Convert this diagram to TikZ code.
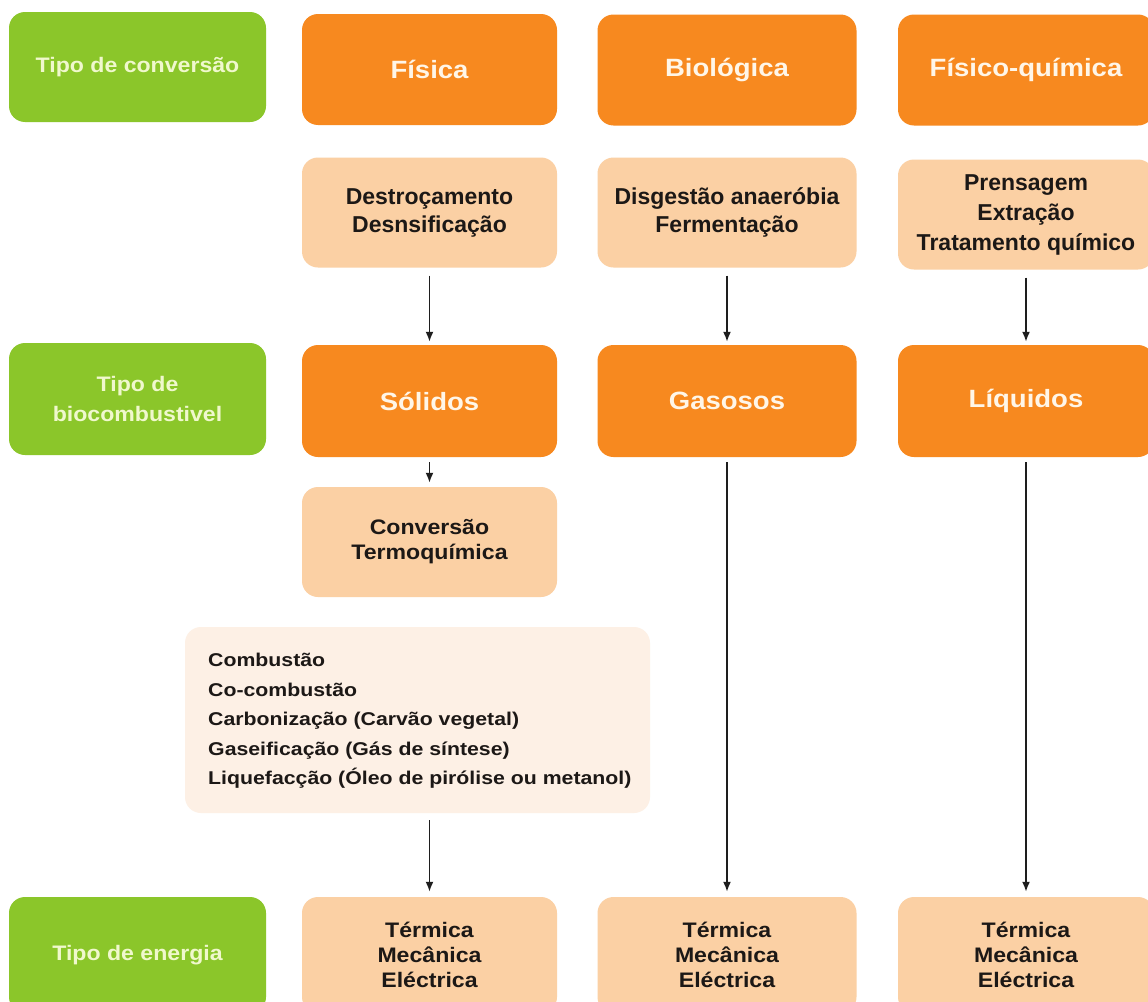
\documentclass[tikz,border=0pt]{standalone}
\usepackage{fontspec}
\setmainfont{Liberation Sans}
\newfontfamily\fwide[FakeStretch=1.1]{Liberation Sans}
\newfontfamily\fplain{Liberation Sans}
\newfontfamily\flist[FakeStretch=1.15]{Liberation Sans}
\usetikzlibrary{arrows.meta}
\definecolor{leaf}{RGB}{139,198,42}
\definecolor{tang}{RGB}{247,137,31}
\definecolor{peach}{RGB}{251,208,164}
\definecolor{cream}{RGB}{253,240,229}
\definecolor{leaftext}{RGB}{240,248,205}
\definecolor{tangtext}{RGB}{255,246,232}
\definecolor{ink}{RGB}{28,24,22}
\definecolor{wire}{RGB}{30,30,30}
\tikzset{
  card/.style={rectangle, rounded corners=16pt, inner sep=0pt, align=center,
    minimum width=#1, minimum height=110pt},
  card/.default=255pt,
  headgreen/.style={card=257pt, fill=leaf, text=leaftext,
    font=\fwide\bfseries\fontsize{21}{30}\selectfont},
  headorange/.style={card=#1, fill=tang, text=tangtext,
    font=\fwide\bfseries\fontsize{25}{30}\selectfont},
  headorange/.default=255pt,
  process/.style={card=#1, fill=peach, text=ink,
    font=\fplain\bfseries\fontsize{23}{28}\selectfont},
  process/.default=255pt,
  energy/.style={card=#1, fill=peach, text=ink,
    font=\fwide\bfseries\fontsize{21}{25}\selectfont},
  energy/.default=255pt,
  routebox/.style={rectangle, rounded corners=16pt, fill=cream, inner sep=0pt,
    minimum width=465pt, minimum height=186pt},
  routetext/.style={text=ink, align=left, inner sep=0pt,
    font=\flist\bfseries\fontsize{18.5}{29.5}\selectfont},
  flow/.style={draw=wire, line width=1.8pt, -{Latex[length=10pt,width=8pt]}}
}
\begin{document}
\begin{tikzpicture}[x=1pt, y=-1pt]
  \clip (0,0) rectangle (1148,1001);
  \fill[white] (0,0) rectangle (1148,1001);

  % row labels
  \node[headgreen] (lconv) at (137.5,67) {Tipo de conversão};
  \node[headgreen, minimum height=112pt] (lfuel) at (137.5,399) {Tipo de\\biocombustivel};
  \node[headgreen, minimum height=116pt] (lenergy) at (137.5,955) {Tipo de energia};

  % conversion types
  \node[headorange, minimum height=111pt] (fis) at (429.5,69.5) {Física};
  \node[headorange=259pt, minimum height=111pt] (bio) at (727,70) {Biológica};
  \node[headorange=256pt, minimum height=111pt] (fq) at (1026,70) {Físico-química};

  % processes
  \node[process] (destro) at (429.5,212.5) {Destroçamento\\Desnsificação};
  \node[process=259pt] (digest) at (727,212.5) {Disgestão anaeróbia\\Fermentação};
  \node[process=256pt, font=\fplain\bfseries\fontsize{23}{30}\selectfont] (prensa) at (1026,214.5) {Prensagem\\Extração\\Tratamento químico};

  % biofuel types
  \node[headorange, minimum height=112pt] (sol) at (429.5,401) {Sólidos};
  \node[headorange=259pt, minimum height=112pt] (gas) at (727,401) {Gasosos};
  \node[headorange=256pt, minimum height=112pt] (liq) at (1026,401) {Líquidos};

  % thermochemical route
  \node[energy] (termo) at (429.5,542) {Conversão\\Termoquímica};
  \node[routebox] (routes) at (417.5,720) {};
  \node[routetext, anchor=west] (routelist) at (208,721)
    {Combustão\\Co-combustão\\Carbonização (Carvão vegetal)\\Gaseificação (Gás de síntese)\\Liquefacção (Óleo de pirólise ou metanol)};

  % energy outputs
  \node[energy, minimum height=116pt] (e1) at (429.5,955) {Térmica\\Mecânica\\Eléctrica};
  \node[energy=259pt, minimum height=116pt] (e2) at (727,955) {Térmica\\Mecânica\\Eléctrica};
  \node[energy=256pt, minimum height=116pt] (e3) at (1026,955) {Térmica\\Mecânica\\Eléctrica};

  % connectors
  \draw[flow, shorten <=8pt, shorten >=3pt] (destro) -- (sol);
  \draw[flow, shorten <=8pt, shorten >=3pt] (digest) -- (gas);
  \draw[flow, shorten <=8pt, shorten >=3pt] (prensa.south) -- (liq.north);
  \draw[flow, shorten <=5pt, shorten >=4pt] (sol) -- (termo);
  \draw[flow, shorten <=7pt, shorten >=5pt] (routes.south -| e1.north) -- (e1.north);
  \draw[flow, shorten <=5pt, shorten >=5pt] (gas) -- (e2);
  \draw[flow, shorten <=5pt, shorten >=5pt] (liq) -- (e3);
\end{tikzpicture}
\end{document}
